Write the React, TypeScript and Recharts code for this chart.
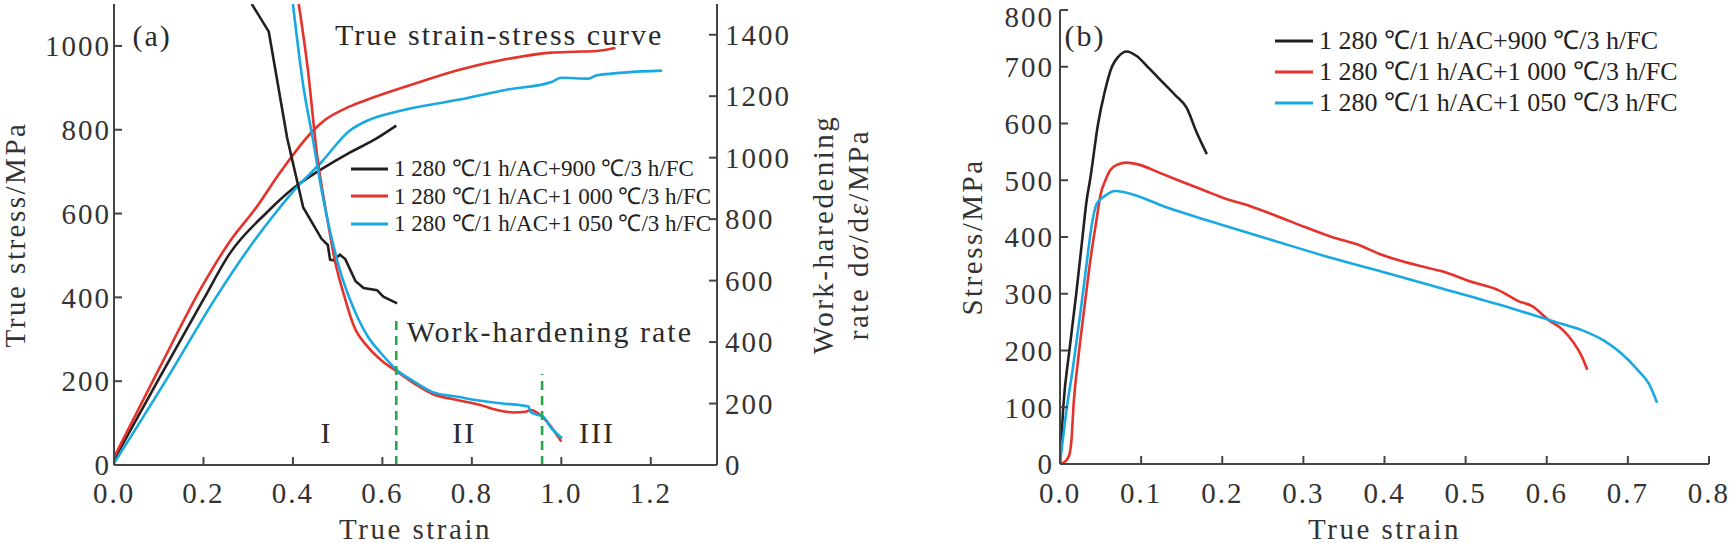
import React from 'react';
import { LineChart, Line, XAxis, YAxis, ReferenceLine, ReferenceDot, Legend, Label } from 'recharts';

// ---------- shared ----------
const SERIES_NAMES = [
  '1 280 ℃/1 h/AC+900 ℃/3 h/FC',
  '1 280 ℃/1 h/AC+1 000 ℃/3 h/FC',
  '1 280 ℃/1 h/AC+1 050 ℃/3 h/FC',
];
const SERIES_COLORS = ['#231f20', '#e5322b', '#19a9e2'];
const GREEN = '#2aa64a';

// ---------- chart (a): true stress (left axis) ----------
const stressA900: [number, number][] = [
  [0, 12], [0.1, 205], [0.2, 395], [0.259, 505], [0.341, 602], [0.403, 662], [0.464, 706],
  [0.526, 745], [0.58, 775], [0.631, 810],
];
const stressA1000: [number, number][] = [
  [0, 18], [0.1, 228], [0.2, 432], [0.26, 535], [0.315, 610], [0.374, 702], [0.447, 800],
  [0.47, 822], [0.526, 855], [0.567, 872], [0.67, 909], [0.772, 943], [0.875, 968],
  [0.978, 984], [1.03, 986], [1.08, 988], [1.121, 995],
];
const stressA1050: [number, number][] = [
  [0, 4], [0.115, 200], [0.228, 400], [0.3, 515], [0.36, 600], [0.403, 656], [0.464, 723],
  [0.526, 797], [0.567, 822], [0.631, 843], [0.772, 872], [0.875, 895], [0.978, 914],
  [1.0, 924], [1.06, 922], [1.08, 930], [1.225, 941],
];

// ---------- chart (a): work-hardening rate (right axis) ----------
const whA900: [number, number][] = [
  [0.308, 1500], [0.346, 1410], [0.387, 1065], [0.423, 838], [0.464, 736], [0.478, 716],
  [0.483, 668], [0.49, 666], [0.505, 684], [0.517, 670], [0.54, 598], [0.558, 576],
  [0.588, 569], [0.602, 548], [0.633, 526],
];
const whA1000: [number, number][] = [
  [0.413, 1500], [0.433, 1291], [0.454, 1008], [0.475, 816], [0.495, 657], [0.516, 544],
  [0.536, 453], [0.567, 385], [0.598, 340], [0.631, 306], [0.67, 266], [0.711, 232],
  [0.772, 210], [0.819, 195], [0.856, 179], [0.893, 171], [0.92, 173], [0.931, 179],
  [0.953, 163], [0.968, 141], [1.0, 76],
];
const whA1050: [number, number][] = [
  [0.4, 1500], [0.423, 1235], [0.444, 1065], [0.464, 895], [0.485, 748], [0.505, 634],
  [0.526, 544], [0.546, 476], [0.567, 419], [0.598, 362], [0.631, 311], [0.67, 272],
  [0.711, 238], [0.772, 221], [0.819, 209], [0.864, 201], [0.927, 190], [0.931, 173],
  [0.946, 163], [0.96, 157], [0.975, 125], [1.002, 87],
];

// stage boundaries (x, top of dashed line on work-hardening axis)
const stageBounds: [number, number][] = [[0.631, 472], [0.957, 296]];
const stageLabels = ['I', 'II', 'III'];
const stageLabelX = [0.475, 0.783, 1.08];

const ticksAX = [0, 0.2, 0.4, 0.6, 0.8, 1.0, 1.2];
const ticksAY = [0, 200, 400, 600, 800, 1000];
const ticksAWH = [0, 200, 400, 600, 800, 1000, 1200, 1400];

// ---------- chart (b): engineering stress ----------
const stressB900: [number, number][] = [
  [0, 0], [0.004, 100], [0.012, 205], [0.02, 300], [0.027, 390], [0.033, 466], [0.037, 500],
  [0.047, 600], [0.055, 655], [0.064, 700], [0.072, 718], [0.082, 727], [0.0945, 719],
  [0.11, 697], [0.127, 672], [0.142, 650], [0.156, 628], [0.1685, 584], [0.181, 546],
];
const stressB1000: [number, number][] = [
  [0, 0], [0.006, 4], [0.011, 14], [0.014, 40], [0.017, 110], [0.022, 180], [0.03, 275],
  [0.038, 365], [0.045, 430], [0.05, 475], [0.056, 500], [0.062, 518], [0.07, 527],
  [0.082, 531], [0.096, 528], [0.123, 513], [0.151, 497], [0.178, 482], [0.205, 467],
  [0.233, 455], [0.267, 437], [0.301, 418], [0.335, 400], [0.37, 385], [0.394, 370],
  [0.438, 351], [0.472, 339], [0.507, 321], [0.541, 306], [0.565, 287], [0.582, 278],
  [0.602, 254], [0.62, 236], [0.633, 214], [0.643, 190], [0.65, 166],
];
const stressB1050: [number, number][] = [
  [0, 0], [0.008, 95], [0.016, 170], [0.025, 265], [0.033, 355], [0.039, 420], [0.045, 458],
  [0.055, 472], [0.068, 481], [0.082, 478], [0.13, 453], [0.198, 422], [0.267, 392],
  [0.335, 363], [0.404, 336], [0.472, 309], [0.541, 281], [0.609, 251], [0.643, 236],
  [0.671, 217], [0.691, 196], [0.712, 166], [0.726, 141], [0.736, 108],
];

const ticksBX = [0, 0.1, 0.2, 0.3, 0.4, 0.5, 0.6, 0.7, 0.8];
const ticksBY = [0, 100, 200, 300, 400, 500, 600, 700, 800];

// ---------- helpers ----------
const toPts = (a: [number, number][]) => a.map(([x, y]) => ({ x, y }));
const FONT = "'Liberation Serif', 'Times New Roman', Times, serif";
const INK = '#333';
const tickStyle = { fontFamily: FONT, fontSize: 29, fill: INK, letterSpacing: 2 };
const axisLine = { stroke: '#444', strokeWidth: 2 };
const tickLine = { stroke: '#444', strokeWidth: 2 };
const fmt1 = (v: number) => v.toFixed(1);

const LegendBox = ({ fontSize, rowH, lineLen, gap }: { fontSize: number; rowH: number; lineLen: number; gap: number }) => (
  <div style={{ fontFamily: FONT, fontSize, color: '#222' }}>
    {SERIES_NAMES.map((n, i) => (
      <div key={i} style={{ display: 'flex', alignItems: 'center', height: rowH, whiteSpace: 'nowrap' }}>
        <svg width={lineLen} height={6} style={{ marginRight: gap, flex: 'none' }}>
          <line x1={0} x2={lineLen} y1={3} y2={3} stroke={SERIES_COLORS[i]} strokeWidth={3} />
        </svg>
        <span style={{ lineHeight: rowH + 'px' }}>{n}</span>
      </div>
    ))}
  </div>
);

const vText = (x: number, y: number, text: React.ReactNode, key?: string) => (
  <text
    key={key}
    x={x}
    y={y}
    transform={`rotate(-90, ${x}, ${y})`}
    textAnchor="middle"
    dominantBaseline="central"
    fontFamily={FONT}
    fontSize={29}
    letterSpacing={2.5}
    fill={INK}
  >
    {text}
  </text>
);

const textLabelStyle = { fontFamily: FONT, fontSize: 30, fill: '#2a2a2a', letterSpacing: 2 };

export default function App() {
  const lineProps = { type: 'monotoneX' as const, dot: false, strokeWidth: 2.6, isAnimationActive: false, legendType: 'none' as const };
  const sharpProps = { ...lineProps, type: 'linear' as const };
  return (
    <div style={{ position: 'absolute', left: 0, top: 0, width: 1730, height: 543, background: '#fff' }}>
      {/* ---------------- (a) ---------------- */}
      <div style={{ position: 'absolute', left: 0, top: 0 }}>
        <LineChart width={890} height={543} margin={{ top: 4, right: 30, bottom: 0, left: 0 }}>
          <XAxis
            xAxisId="b"
            type="number"
            dataKey="x"
            domain={[0, 1.348]}
            allowDataOverflow
            ticks={ticksAX}
            tickFormatter={fmt1}
            height={78}
            tickSize={-8}
            tickMargin={25}
            tick={tickStyle}
            axisLine={axisLine}
            tickLine={tickLine}
            label={(p: any) => (
              <text x={p.viewBox.x + p.viewBox.width / 2} y={539} textAnchor="middle" fontFamily={FONT} fontSize={29} letterSpacing={2.5} fill={INK}>
                True strain
              </text>
            )}
          />
          <XAxis xAxisId="top" orientation="top" type="number" domain={[0, 1]} allowDataOverflow height={0} tick={false} tickLine={false} axisLine={axisLine} />
          <YAxis
            yAxisId="left"
            type="number"
            domain={[0, 1100]}
            allowDataOverflow
            ticks={ticksAY}
            width={114}
            tickSize={-8}
            tickMargin={11}
            tick={tickStyle}
            axisLine={axisLine}
            tickLine={tickLine}
            label={(p: any) => vText(p.viewBox.x + 15, p.viewBox.y + p.viewBox.height / 2, 'True stress/MPa')}
          />
          <YAxis
            yAxisId="wh"
            orientation="right"
            type="number"
            domain={[0, 1500]}
            allowDataOverflow
            ticks={ticksAWH}
            width={143}
            tickSize={-8}
            tickMargin={16}
            tick={{ ...tickStyle, textAnchor: 'start' }}
            axisLine={axisLine}
            tickLine={tickLine}
            label={(p: any) => (
              <g>
                {vText(p.viewBox.x + 106, p.viewBox.y + p.viewBox.height / 2, 'Work-haredening', 'l1')}
                {vText(
                  p.viewBox.x + 141,
                  p.viewBox.y + p.viewBox.height / 2,
                  <>
                    {'rate d'}
                    <tspan fontStyle="italic">σ</tspan>
                    {'/d'}
                    <tspan fontStyle="italic">ε</tspan>
                    {'/MPa'}
                  </>,
                  'l2'
                )}
              </g>
            )}
          />
          <Line xAxisId="b" yAxisId="left" data={toPts(stressA900)} dataKey="y" stroke={SERIES_COLORS[0]} {...lineProps} />
          <Line xAxisId="b" yAxisId="left" data={toPts(stressA1000)} dataKey="y" stroke={SERIES_COLORS[1]} {...lineProps} />
          <Line xAxisId="b" yAxisId="left" data={toPts(stressA1050)} dataKey="y" stroke={SERIES_COLORS[2]} {...lineProps} />
          <Line xAxisId="b" yAxisId="wh" data={toPts(whA900)} dataKey="y" stroke={SERIES_COLORS[0]} {...sharpProps} />
          <Line xAxisId="b" yAxisId="wh" data={toPts(whA1000)} dataKey="y" stroke={SERIES_COLORS[1]} {...lineProps} />
          <Line xAxisId="b" yAxisId="wh" data={toPts(whA1050)} dataKey="y" stroke={SERIES_COLORS[2]} {...lineProps} />
          {stageBounds.map(([x, top], i) => (
            <ReferenceLine
              key={'sb' + i}
              xAxisId="b"
              yAxisId="wh"
              segment={[{ x, y: 0 }, { x, y: top }]}
              stroke={GREEN}
              strokeWidth={2.6}
              strokeDasharray="9 6"
            />
          ))}
          {stageLabels.map((s, i) => (
            <ReferenceDot key={'st' + i} xAxisId="b" yAxisId="left" x={stageLabelX[i]} y={79} r={1} fillOpacity={0} stroke="none"
              label={<Label value={s} position="center" {...textLabelStyle} />} />
          ))}
          <ReferenceDot xAxisId="b" yAxisId="left" x={0.0854} y={1026} r={1} fillOpacity={0} stroke="none"
            label={<Label value="(a)" position="center" {...textLabelStyle} />} />
          <ReferenceDot xAxisId="b" yAxisId="left" x={0.861} y={1027} r={1} fillOpacity={0} stroke="none"
            label={<Label value="True strain-stress curve" position="center" {...textLabelStyle} />} />
          <ReferenceDot xAxisId="b" yAxisId="left" x={0.652} y={318} r={1} fillOpacity={0} stroke="none"
            label={<Label value="Work-hardening rate" position="right" offset={0} {...textLabelStyle} />} />
          <Legend
            layout="vertical"
            align="center"
            verticalAlign="middle"
            wrapperStyle={{ left: 351, top: 155, width: 420 }}
            content={() => <LegendBox fontSize={23} rowH={27.5} lineLen={37} gap={6} />}
          />
        </LineChart>
      </div>

      {/* ---------------- (b) ---------------- */}
      <div style={{ position: 'absolute', left: 890, top: 0 }}>
        <LineChart width={840} height={543} margin={{ top: 10, right: 21, bottom: 0, left: 0 }}>
          <XAxis
            xAxisId="b"
            type="number"
            dataKey="x"
            domain={[0, 0.8]}
            allowDataOverflow
            ticks={ticksBX}
            tickFormatter={fmt1}
            height={79}
            tickSize={-8}
            tickMargin={26}
            tick={tickStyle}
            axisLine={axisLine}
            tickLine={tickLine}
            label={(p: any) => (
              <text x={p.viewBox.x + p.viewBox.width / 2} y={539} textAnchor="middle" fontFamily={FONT} fontSize={29} letterSpacing={2.5} fill={INK}>
                True strain
              </text>
            )}
          />
          <XAxis xAxisId="top" orientation="top" type="number" domain={[0, 1]} allowDataOverflow height={0} tick={false} tickLine={false} axisLine={axisLine} />
          <YAxis
            yAxisId="left"
            type="number"
            domain={[0, 800]}
            allowDataOverflow
            ticks={ticksBY}
            width={170}
            tickSize={-8}
            tickMargin={14}
            tick={tickStyle}
            axisLine={axisLine}
            tickLine={tickLine}
            label={(p: any) => vText(p.viewBox.x + 82, p.viewBox.y + p.viewBox.height / 2, 'Stress/MPa')}
          />
          <YAxis yAxisId="r" orientation="right" type="number" domain={[0, 1]} allowDataOverflow width={0} tick={false} tickLine={false} axisLine={axisLine} />
          <Line xAxisId="b" yAxisId="left" data={toPts(stressB900)} dataKey="y" stroke={SERIES_COLORS[0]} {...lineProps} />
          <Line xAxisId="b" yAxisId="left" data={toPts(stressB1000)} dataKey="y" stroke={SERIES_COLORS[1]} {...lineProps} />
          <Line xAxisId="b" yAxisId="left" data={toPts(stressB1050)} dataKey="y" stroke={SERIES_COLORS[2]} {...lineProps} />
          <ReferenceDot xAxisId="b" yAxisId="left" x={0.0308} y={756} r={1} fillOpacity={0} stroke="none"
            label={<Label value="(b)" position="center" {...textLabelStyle} />} />
          <Legend
            layout="vertical"
            align="center"
            verticalAlign="middle"
            wrapperStyle={{ left: 385, top: 26, width: 440 }}
            content={() => <LegendBox fontSize={26} rowH={30.8} lineLen={38} gap={6} />}
          />
        </LineChart>
      </div>
    </div>
  );
}
